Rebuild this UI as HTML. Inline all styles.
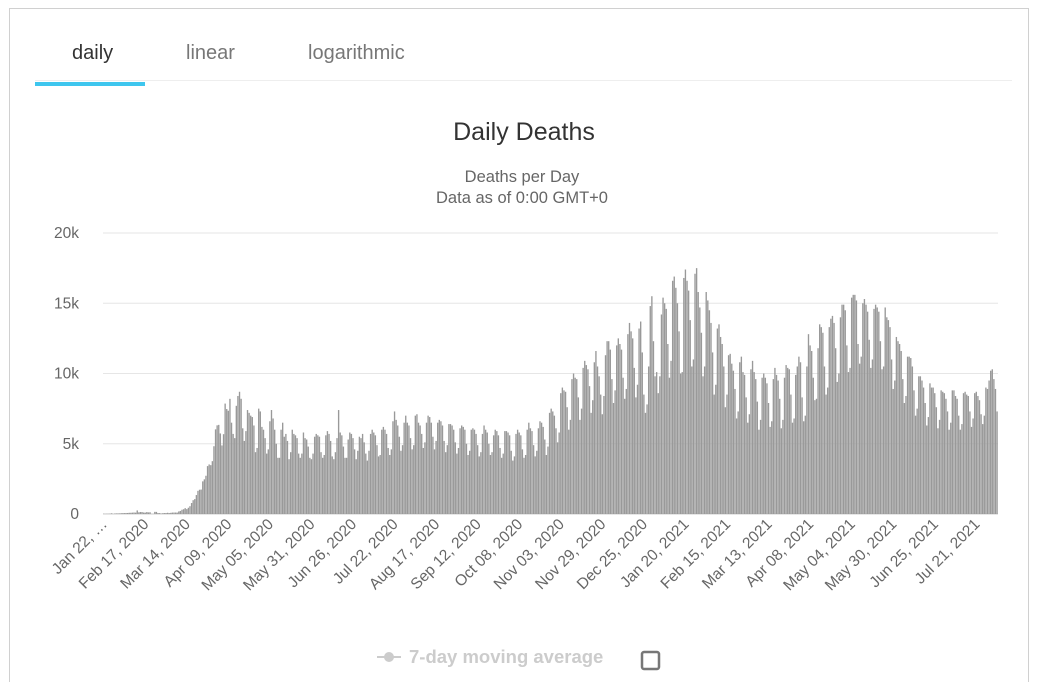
<!DOCTYPE html>
<html><head><meta charset="utf-8">
<style>
html,body{margin:0;background:#fff;width:1038px;height:682px;overflow:hidden;font-family:"Liberation Sans",sans-serif;}
#card{position:absolute;left:9px;top:8px;width:1020px;height:674px;border:1px solid #d0d0d0;border-bottom:none;box-sizing:border-box;}
.tab{position:absolute;top:42px;font-size:20px;color:#777;}
</style></head><body>
<div id="card"></div>
<div class="tab" style="left:72px;color:#333">daily</div>
<div class="tab" style="left:186px">linear</div>
<div class="tab" style="left:308px">logarithmic</div>
<div style="position:absolute;left:35px;top:80px;width:977px;height:1px;background:#eee"></div>
<div style="position:absolute;left:35px;top:82px;width:110px;height:4px;background:#3ec6ee"></div>
<svg id="chart" width="1038" height="682" style="position:absolute;left:0;top:0;display:block">
<text x="524" y="140" text-anchor="middle" font-size="25" fill="#333">Daily Deaths</text>
<text x="522" y="182" text-anchor="middle" font-size="16.5" fill="#666">Deaths per Day</text>
<text x="522" y="203" text-anchor="middle" font-size="16.5" fill="#666">Data as of 0:00 GMT+0</text>
<g id="grid"></g><g id="bars"></g><g id="xlabels"></g>
<g>
<line x1="377" y1="657" x2="401" y2="657" stroke="#ccc" stroke-width="2"/>
<circle cx="389" cy="657" r="5" fill="#ccc"/>
<text x="409" y="663" font-size="18.5" font-weight="bold" fill="#ccc">7-day moving average</text>
</g>
<rect x="642" y="652" width="17" height="17" rx="2" fill="none" stroke="#777" stroke-width="2.5"/>
</svg>
<script>
const deaths=[
17,8,16,14,26,49,2, 38,43,46,45,57,64,66, 73,73,86,89,97,108,97, 254,121,143,142,106,98,139,
115,125,4,5,152,150,71, 64,37,58,67,72,87,67, 84,101,104,104,99,183,218, 303,338,417,347,444,555,780,
983,1059,1349,1649,1727,1740,2323, 2467,2722,3409,3526,3476,3760,4823, 6024,6310,6344,5734,4880,5681,7859,
7470,7350,8197,6500,5700,5400,7700, 8400,8700,8200,6100,5200,5900,7400, 7200,7000,6900,6300,4400,4700,7500,
7300,6200,6000,5400,4300,4600,6600, 7400,6800,6000,5000,4000,4000,6000, 6500,5500,5700,5200,3900,4400,6000,
5700,5600,5400,4300,4000,4300,5800, 5400,5300,4800,4000,3900,4300,5500, 5700,5600,5500,4400,4000,4200,5600,
5900,5700,5200,4100,3900,4400,5400, 7400,5800,5600,4800,4000,4000,5300, 5800,5700,5400,4600,3900,4500,5500,
5400,5700,5100,4300,3800,4500,5700, 6000,5800,5600,4900,4100,4200,6000, 6200,6000,5700,4700,4200,4600,6600,
7300,6700,6300,5500,4500,4900,6500, 7000,6500,6300,5400,4600,4900,7000, 7100,6500,6300,5700,4700,5100,6500,
7000,6900,6500,5500,4600,5200,6500, 6700,6600,6300,5200,4400,4900,6400, 6400,6300,6000,5100,4300,4700,6100,
6300,6200,6000,5000,4200,4500,6000, 6100,6000,5700,4900,4100,4400,5700, 6300,6000,5800,5000,4200,4400,5600,
6000,5900,5600,4700,4000,4300,5900, 5900,5800,5600,4500,3800,4100,5700, 6000,5800,5600,4600,4000,4200,6000,
6500,6100,5900,4900,4100,4500,6100, 6600,6500,6200,5300,4200,4800,7200, 7500,7300,7000,6100,5100,5800,8600,
9000,8800,8700,7600,6000,6700,9600, 10000,9700,9600,8300,6700,7500,10400, 10900,10600,10300,9100,7200,8100,10800,
11600,10500,9800,8500,7100,8400,11300, 12300,12300,11700,9600,7900,8800,12000, 12500,12100,11700,9700,8200,8900,12800,
13600,13000,12500,10400,8300,9200,13200, 13700,11500,8500,7200,7800,10500,14800, 15500,12300,9800,10100,8600,9800,14200,
15400,15000,14600,12100,9700,10900,16600, 16900,16100,15000,13000,10000,10100,16800, 17400,16600,15900,13800,10500,11000,17100,
17500,15800,14700,12900,9800,10500,15800, 15200,14500,13600,11500,8500,9200,13200, 13500,12600,12100,10500,7600,8500,11300,
11400,10700,10200,8900,6800,7300,10800, 11200,10100,9900,8300,6500,7100,10300, 10900,10100,9600,8000,6000,6700,9700,
10000,9700,9300,7900,6200,6600,9600, 10400,9900,9500,8200,6100,6700,9700, 10600,10400,10300,8500,6500,6800,9900,
10500,11200,10800,8300,6600,7000,10500, 12800,12000,11600,9700,8100,8200,11800, 13500,13300,12900,10500,8500,9000,13300,
13900,14100,13600,11800,9400,10000,14000, 14900,14900,14500,12000,10100,10400,15400, 15600,15600,15200,12100,10700,11200,15000,
15300,14900,14400,12400,10400,11000,14600, 14900,14700,14400,12300,10300,10500,14700, 14000,13800,13300,11000,8900,9500,12600,
12300,12100,11600,9600,7900,8400,11200, 11200,11100,10500,8800,7000,7500,9800, 9800,9500,9000,7900,6300,6900,9300,
9000,9000,8600,7600,6100,6700,8800, 8700,8600,8200,7300,6000,6500,8800, 8800,8400,8200,7000,6000,6400,8600,
8700,8500,8400,7300,6200,6800,8600, 8700,8400,8100,7100,6400,7000,9000, 8900,9500,10200,10300,9600,8900,7300
];
const yTicks=[0,5000,10000,15000,20000];
const yTickLabels=["0","5k","10k","15k","20k"];
const xTickLabels=["Jan 22, …","Feb 17, 2020","Mar 14, 2020","Apr 09, 2020","May 05, 2020","May 31, 2020","Jun 26, 2020","Jul 22, 2020","Aug 17, 2020","Sep 12, 2020","Oct 08, 2020","Nov 03, 2020","Nov 29, 2020","Dec 25, 2020","Jan 20, 2021","Feb 15, 2021","Mar 13, 2021","Apr 08, 2021","May 04, 2021","May 30, 2021","Jun 25, 2021","Jul 21, 2021"];
const xTickEvery=26;

const NS="http://www.w3.org/2000/svg";
const X0=103,X1=998,Y0=514,Y1=233,YMAX=20000;
const step=(X1-X0)/deaths.length;
function xs(i){return X0+i*step;}
function ys(v){return Y0-(v/YMAX)*(Y0-Y1);}
const grid=document.getElementById('grid');
yTicks.forEach((t,i)=>{
  const l=document.createElementNS(NS,'line');
  l.setAttribute('x1',X0);l.setAttribute('x2',X1);l.setAttribute('y1',ys(t));l.setAttribute('y2',ys(t));
  l.setAttribute('stroke',i===0?'#ccc':'#e6e6e6');l.setAttribute('stroke-width',1);
  
  
  grid.appendChild(l);
  const tx=document.createElementNS(NS,'text');
  tx.setAttribute('x',79);tx.setAttribute('y',ys(t)+5);tx.setAttribute('text-anchor','end');
  tx.setAttribute('font-size','15.5');tx.setAttribute('fill','#666');tx.textContent=yTickLabels[i];
  
  
  grid.appendChild(tx);
});
const bars=document.getElementById('bars');
deaths.forEach((v,i)=>{
  const r=document.createElementNS(NS,'rect');
  r.setAttribute('x',xs(i));r.setAttribute('width',step*0.85);
  r.setAttribute('y',ys(v));r.setAttribute('height',Math.max(0,Y0-ys(v)));
  r.setAttribute('fill','#999');
  
  
  bars.appendChild(r);
});
const xl=document.getElementById('xlabels');
xTickLabels.forEach((s,i)=>{
  const d=i*xTickEvery;
  const x=xs(d)+5, y=525;
  const t=document.createElementNS(NS,'text');
  t.setAttribute('x',x);t.setAttribute('y',y);t.setAttribute('text-anchor','end');
  t.setAttribute('font-size','15.5');t.setAttribute('fill','#666');
  t.setAttribute('transform','rotate(-45 '+x+' '+y+')');
  t.textContent=s;
  
  
  xl.appendChild(t);
});
</script>
</body></html>
